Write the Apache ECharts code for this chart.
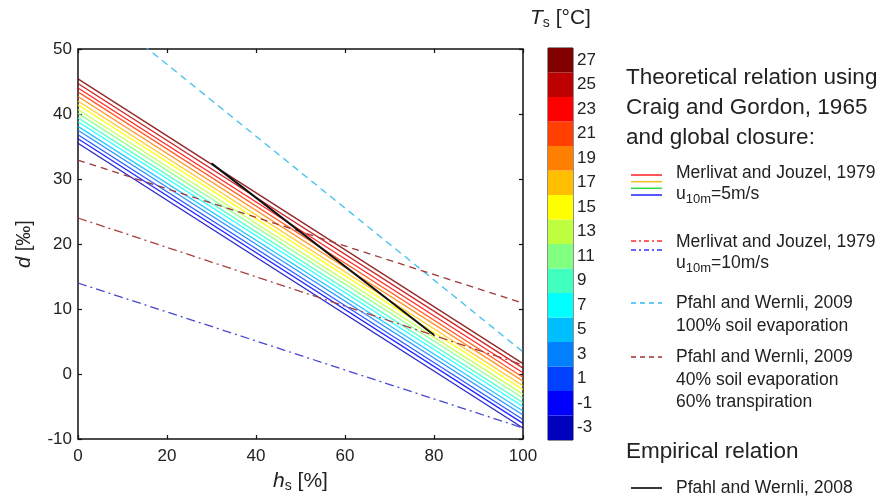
<!DOCTYPE html>
<html><head><meta charset="utf-8">
<script src="https://cdn.jsdelivr.net/npm/echarts@6/dist/echarts.min.js"></script>
<style>html,body{margin:0;padding:0;background:#fff}#c{width:884px;height:498px}</style>
</head><body><div id="c"></div>
<script>
// Data
var temps = [-3,-1,1,3,5,7,9,11,13,15,17,19,21,23,25,27];
var dAtH0   = [35.5,36.2,36.8,37.5,38.1,38.8,39.4,40.1,40.7,41.4,42.0,42.7,43.4,44.0,44.7,45.4];
var dAtH100 = [-8.3,-7.6,-7.0,-6.3,-5.7,-5.0,-4.4,-3.7,-3.1,-2.4,-1.8,-1.1,-0.5,0.2,0.9,1.6];
var hEnds = [0, 100];
var mj10Red  = [24.0, 1.4];
var mj10Blue = [14.0, -8.3];
var pw100soil = [58.7, 3.4];
var pw40soil  = [32.9, 10.9];
var pw2008H = [30, 80];
var pw2008D = [32.4, 6.0];

var jet16 = ['#0000bf','#0000ff','#0040ff','#0080ff','#00bfff','#00ffff','#40ffbf','#80ff80',
             '#bfff40','#ffff00','#ffbf00','#ff8000','#ff4000','#ff0000','#bf0000','#800000'];

var series = [];
temps.forEach(function(t, i){
  series.push({type:'line', xAxisIndex:0, yAxisIndex:0, symbol:'none', silent:true,
    data: hEnds.map(function(h, k){ return [h, k===0 ? dAtH0[i] : dAtH100[i]]; }),
    lineStyle:{color:jet16[i], width:1.3, opacity:0.85}});
});
function pair(arr, col, type, w){
  return {type:'line', xAxisIndex:0, yAxisIndex:0, symbol:'none', silent:true, clip:true,
    data: hEnds.map(function(h,k){return [h, arr[k]];}),
    lineStyle:{color:col, width:w||1.3, type:type}};
}
series.push(pair(mj10Red, '#a84040', [9,4,2,4]));
series.push(pair(mj10Blue, '#4848d0', [9,4,2,4]));
series.push(pair(pw100soil, '#40c0f0', [7,5]));
series.push(pair(pw40soil, '#a03838', [7,5]));
series.push({type:'line', xAxisIndex:0, yAxisIndex:0, symbol:'none', silent:true,
  data: pw2008H.map(function(h,k){return [h, pw2008D[k]];}),
  lineStyle:{color:'#111', width:2}});
// colorbar
series.push({type:'bar', xAxisIndex:2, yAxisIndex:2, silent:true, barWidth:'100%', barCategoryGap:0,
  data: temps.map(function(t,i){return {value:1, itemStyle:{color:jet16[i]}};})});

var font = 'Liberation Sans, Arial, sans-serif';
var tickLbl = {fontSize:17, color:'#222', fontFamily:font};
var tickStyle = {inside:true, length:4, lineStyle:{color:'#111', width:1.2}};

var option = {
  animation:false,
  grid:[
    {left:78, right:361, top:49, bottom:58, show:true, borderColor:'#111', borderWidth:1.5, backgroundColor:'transparent'},
    {left:548, width:25, top:48, height:392, show:true, borderColor:'#222', borderWidth:1}
  ],
  xAxis:[
    {type:'value', gridIndex:0, min:0, max:100, interval:20, position:'bottom',
     axisLine:{show:false, onZero:false}, splitLine:{show:false}, axisTick:tickStyle,
     axisLabel:Object.assign({margin:9}, tickLbl),
     name:'{i|h}{s|s} [%]', nameLocation:'middle', nameGap:31,
     nameTextStyle:{fontSize:21, color:'#222', fontFamily:font,
       rich:{i:{fontStyle:'italic', fontSize:21, fontFamily:font, color:'#222'},
             s:{fontSize:14, fontFamily:font, color:'#222', padding:[9,0,0,0]}}}},
    {type:'value', gridIndex:0, min:0, max:100, interval:20, position:'top',
     axisLine:{show:false, onZero:false}, splitLine:{show:false}, axisLabel:{show:false}, axisTick:tickStyle},
    {type:'value', gridIndex:1, min:0, max:1, show:false}
  ],
  yAxis:[
    {type:'value', gridIndex:0, min:-10, max:50, interval:10, position:'left',
     axisLine:{show:false, onZero:false}, splitLine:{show:false}, axisTick:tickStyle,
     axisLabel:Object.assign({margin:6}, tickLbl),
     name:'{i|d} [‰]', nameLocation:'middle', nameGap:44, nameRotate:90,
     nameTextStyle:{fontSize:20, color:'#222', fontFamily:font,
       rich:{i:{fontStyle:'italic', fontSize:20, fontFamily:font, color:'#222'}}}},
    {type:'value', gridIndex:0, min:-10, max:50, interval:10, position:'right',
     axisLine:{show:false, onZero:false}, splitLine:{show:false}, axisLabel:{show:false}, axisTick:tickStyle},
    {type:'category', gridIndex:1, position:'right', data:temps.map(String),
     axisLine:{show:false}, splitLine:{show:false},
     axisTick:{inside:true, length:3, alignWithLabel:true, lineStyle:{color:'#222'}},
     axisLabel:Object.assign({margin:4}, tickLbl)},
    {type:'category', gridIndex:1, position:'left', data:temps.map(String),
     axisLine:{show:false}, splitLine:{show:false}, axisLabel:{show:false},
     axisTick:{inside:true, length:3, alignWithLabel:true, lineStyle:{color:'#222'}}}
  ],
  series:series,
  graphic:[]
};

var G = option.graphic;
function txt(x, y, s, size, rich){
  G.push({type:'text', left:x, top:y - size*0.5, style:{text:s, fontSize:size, fontFamily:font, fill:'#222', rich:rich}});
}
function seg(y, col, dash, w){
  G.push({type:'line', shape:{x1:631, y1:y, x2:662, y2:y}, style:{stroke:col, lineWidth:w||1.5, lineDash:dash||null}});
}
var subRich = {s:{fontSize:13, fontFamily:font, fill:'#222', padding:[10,0,0,0]}};
G.push({type:'text', left:530, top:8, style:{text:'{i|T}{s|s} [°C]', fontSize:21, fontFamily:font, fill:'#222',
  rich:{i:{fontStyle:'italic', fontSize:21, fontFamily:font, fill:'#222'}, s:{fontSize:14, fontFamily:font, fill:'#222', padding:[10,0,0,0]}}}});
txt(626, 78, 'Theoretical relation using', 22.5);
txt(626, 108, 'Craig and Gordon, 1965', 22.5);
txt(626, 138, 'and global closure:', 22.5);
seg(175, '#ff2020'); seg(181.7, '#f0c020'); seg(188.3, '#30d840'); seg(195, '#2020ff');
txt(676, 173, 'Merlivat and Jouzel, 1979', 17.5);
txt(676, 194, 'u{s|10m}=5m/s', 17.5, subRich);
seg(241, '#ff3030', [5,3,2,3]); seg(250, '#3030ff', [5,3,2,3]);
txt(676, 242, 'Merlivat and Jouzel, 1979', 17.5);
txt(676, 263, 'u{s|10m}=10m/s', 17.5, subRich);
seg(303, '#30b8f8', [5,4]);
txt(676, 303, 'Pfahl and Wernli, 2009', 17.5);
txt(676, 326, '100% soil evaporation', 17.5);
seg(357, '#a03030', [5,4]);
txt(676, 357, 'Pfahl and Wernli, 2009', 17.5);
txt(676, 380, '40% soil evaporation', 17.5);
txt(676, 402, '60% transpiration', 17.5);
txt(626, 452, 'Empirical relation', 22.5);
seg(488, '#222', null, 1.8);
txt(676, 488, 'Pfahl and Wernli, 2008', 17.5);

echarts.init(document.getElementById('c')).setOption(option);
</script></body></html>
